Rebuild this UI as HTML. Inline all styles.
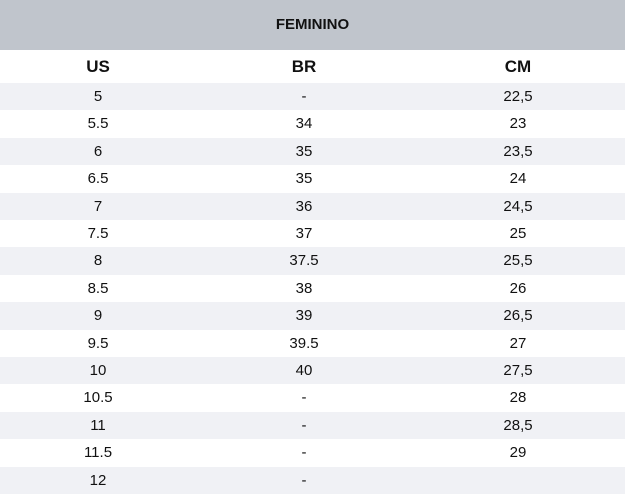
<!DOCTYPE html>
<html><head><meta charset="utf-8"><style>
body{margin:0;width:625px;height:492px;overflow:hidden;background:#fff;font-family:"Liberation Sans",sans-serif;color:#111}
.h{position:absolute;left:0;top:0;width:625px;height:50px;background:#c0c5cc;font-weight:bold;font-size:15px;text-align:center;line-height:50px;}
.r{position:absolute;left:0;width:625px;height:27.4px;font-size:15px;line-height:27.4px}
.r span{position:absolute;width:120px;margin-left:-60px;text-align:center}
.g{background:#f0f1f5}
.hd{font-weight:bold;font-size:17px}
</style></head><body>
<div class="h">FEMININO</div>
<div class="r hd" style="top:50px;height:33px;line-height:33px"><span style="left:98px">US</span><span style="left:304px">BR</span><span style="left:518px">CM</span></div>
<div id="t"></div>
<script>
var d=[["5","-","22,5"],["5.5","34","23"],["6","35","23,5"],["6.5","35","24"],["7","36","24,5"],["7.5","37","25"],["8","37.5","25,5"],["8.5","38","26"],["9","39","26,5"],["9.5","39.5","27"],["10","40","27,5"],["10.5","-","28"],["11","-","28,5"],["11.5","-","29"],["12","-",""]];
var h="";d.forEach(function(r,i){h+='<div class="r'+(i%2==0?' g':'')+'" style="top:'+(83+i*27.4)+'px"><span style="left:98px">'+r[0]+'</span><span style="left:304px">'+r[1]+'</span><span style="left:518px">'+r[2]+'</span></div>';});
document.getElementById("t").innerHTML=h;
</script>
</body></html>
